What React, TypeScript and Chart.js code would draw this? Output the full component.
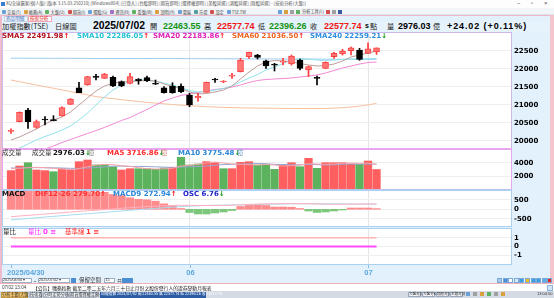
import React, { useEffect, useRef } from 'react';
import { Chart, registerables } from 'chart.js';

Chart.register(...registerables);

// ---------------- data ----------------
const dates = [
  '2025/04/30', '2025/05/02', '2025/05/05', '2025/05/06', '2025/05/07', '2025/05/08', '2025/05/09', '2025/05/12', '2025/05/13', '2025/05/14',
  '2025/05/15', '2025/05/16', '2025/05/19', '2025/05/20', '2025/05/21', '2025/05/22', '2025/05/23', '2025/05/26', '2025/05/27', '2025/05/28',
  '2025/05/29', '2025/06/02', '2025/06/03', '2025/06/04', '2025/06/05', '2025/06/06', '2025/06/09', '2025/06/10', '2025/06/11', '2025/06/12',
  '2025/06/13', '2025/06/16', '2025/06/17', '2025/06/18', '2025/06/19', '2025/06/20', '2025/06/23', '2025/06/24', '2025/06/25', '2025/06/26',
  '2025/06/27', '2025/06/30', '2025/07/01', '2025/07/02',
];
const opens = [
  20260, 20528, 20853, 20372, 20585, 20565, 20686, 21011, 21472, 21547,
  21770, 21733, 21761, 21639, 21594, 21714, 21750, 21594, 21472, 21519,
  21519, 21269, 21195, 21344, 21700, 21630, 21795, 21917, 22333, 22381,
  22222, 22110, 22185, 22131, 22242, 21964, 21745, 22011, 22333, 22408,
  22500, 22519, 22428, 22463.55,
];
const highs = [
  20330, 20800, 20900, 20575, 20667, 20694, 20944, 21170, 21622, 21790,
  21845, 21870, 21797, 21660, 21872, 21725, 21797, 21686, 21500, 21611,
  21583, 21317, 21317, 21630, 21733, 21670, 21872, 22288, 22464, 22400,
  22242, 22150, 22289, 22380, 22269, 22075, 21797, 22190, 22456, 22539,
  22600, 22567, 22722, 22577.74,
];
const lows = [
  20200, 20520, 20344, 20344, 20436, 20550, 20680, 21000, 21333, 21540,
  21686, 21725, 21500, 21500, 21580, 21567, 21639, 21560, 21317, 21317,
  21333, 20944, 21100, 21340, 21622, 21610, 21733, 21910, 22288, 22269,
  22011, 21936, 22103, 22100, 21964, 21778, 21547, 22000, 22289, 22380,
  22380, 22233, 22419, 22396.26,
];
const closes = [
  20278, 20789, 20528, 20528, 20575, 20556, 20917, 21158, 21333, 21778,
  21761, 21853, 21520, 21520, 21778, 21667, 21667, 21567, 21333, 21333,
  21361, 20992, 21230, 21622, 21686, 21645, 21810, 22242, 22456, 22317,
  22075, 22100, 22200, 22353, 22011, 22056, 21733, 22178, 22428, 22492,
  22583, 22261, 22553.72, 22577.74,
];
const sma5 = [
  20019, 20103, 20214, 20325, 20464, 20575, 20658, 20797, 20992, 21186,
  21381, 21519, 21603, 21631, 21644, 21658, 21672, 21658, 21575, 21506,
  21450, 21353, 21297, 21311, 21353, 21408, 21519, 21714, 21908, 22075,
  22186, 22228, 22214, 22200, 22144, 22103, 22075, 22089, 22130, 22214,
  22325, 22381, 22436, 22491.98,
];
const sma10 = [
  19686, 19797, 19908, 20019, 20117, 20200, 20297, 20408, 20575, 20769,
  20992, 21214, 21408, 21547, 21644, 21686, 21686, 21658, 21603, 21547,
  21478, 21394, 21353, 21367, 21408, 21450, 21519, 21631, 21742, 21839,
  21964, 22047, 22144, 22242, 22283, 22269, 22242, 22228, 22242, 22256,
  22269, 22269, 22275, 22286.05,
];
const sma20 = [
  19436, 19520, 19603, 19686, 19770, 19853, 19950, 20033, 20117, 20200,
  20283, 20367, 20464, 20561, 20644, 20756, 20867, 20992, 21103, 21186,
  21256, 21297, 21339, 21380, 21422, 21450, 21492, 21547, 21617, 21672,
  21700, 21714, 21728, 21742, 21769, 21797, 21825, 21880, 21950, 22019,
  22075, 22130, 22172, 22183.86,
];
const sma60 = [
  21686, 21640, 21594, 21548, 21502, 21456, 21410, 21364, 21318, 21272,
  21226, 21195, 21168, 21140, 21115, 21090, 21066, 21045, 21025, 21005,
  20988, 20972, 20958, 20946, 20936, 20927, 20920, 20914, 20909, 20905,
  20902, 20900, 20898, 20896, 20894, 20893, 20893, 20897, 20905, 20918,
  20936, 20960, 20995, 21036.5,
];
const sma240 = [
  22292, 22291, 22290, 22290, 22289, 22288, 22288, 22287, 22287, 22286,
  22286, 22286, 22285, 22285, 22285, 22284, 22284, 22283, 22283, 22282,
  22281, 22280, 22279, 22278, 22277, 22276, 22275, 22274, 22273, 22272,
  22271, 22270, 22269, 22268, 22267, 22266, 22265, 22264, 22263, 22262,
  22261, 22260, 22259.5, 22259.21,
];
const volumes = [
  2812, 3504, 4000, 2903, 2812, 2647, 3098, 2903, 4151, 4407,
  3655, 3655, 3399, 2903, 3098, 3098, 3098, 3008, 3203, 3309,
  4813, 3655, 3805, 4151, 4000, 3098, 3098, 4060, 4151, 3655,
  3760, 3008, 3760, 4000, 3399, 4662, 3158, 4000, 4000, 4000,
  3805, 3760, 4256, 2976.03,
];
// 1 = 紅 (漲), -1 = 綠 (跌)
const volDir = [
  1, 1, -1, 1, 1, -1, 1, 1, 1, 1,
  -1, -1, -1, 1, 1, -1, -1, -1, -1, 1,
  -1, -1, -1, 1, 1, -1, 1, 1, 1, -1,
  -1, -1, 1, 1, -1, 1, -1, 1, 1, 1,
  1, -1, 1, 1,
];
const volMa5 = [
  3100, 3150, 3250, 3300, 3250, 3150, 3050, 2950, 3100, 3400,
  3650, 3750, 3700, 3550, 3450, 3250, 3100, 3050, 3080, 3150,
  3500, 3600, 3750, 3950, 4100, 3950, 3800, 3750, 3700, 3650,
  3750, 3650, 3500, 3550, 3650, 3850, 3800, 3750, 3800, 3900,
  3950, 3900, 3950, 3716.86,
];
const volMa10 = [
  3200, 3220, 3250, 3260, 3250, 3230, 3200, 3150, 3150, 3200,
  3270, 3380, 3480, 3480, 3430, 3450, 3420, 3380, 3330, 3300,
  3350, 3380, 3420, 3500, 3600, 3730, 3760, 3780, 3820, 3880,
  3850, 3750, 3720, 3700, 3680, 3750, 3720, 3650, 3680, 3760,
  3800, 3780, 3800, 3775.48,
];
const dif = [
  -390, -355, -320, -285, -250, -215, -180, -145, -110, -80,
  -50, -15, 20, 55, 85, 115, 140, 165, 185, 200,
  210, 205, 200, 198, 200, 205, 215, 235, 258, 275,
  285, 292, 298, 302, 300, 292, 280, 272, 268, 268,
  272, 275, 278, 279.7,
];
const macd9 = [
  -560, -520, -482, -445, -408, -372, -336, -300, -266, -232,
  -198, -163, -125, -88, -52, -18, 15, 48, 80, 110,
  140, 165, 185, 200, 210, 218, 225, 232, 240, 250,
  260, 270, 278, 285, 290, 292, 290, 286, 282, 278,
  275, 274, 273.5, 272.94,
];
const osc = [
  195, 200, 198, 192, 188, 185, 182, 180, 178, 176,
  172, 170, 148, 138, 115, 100, 95, 81, 55, 38,
  8, -32, -47, -47, -37, -27, -12, 28, 43, 43,
  38, 23, 23, 21, 8, -17, -32, -27, -17, -7,
  13, 13, 13, 6.76,
];
const volRatio = [
  0, 0, 0, 0, 0, 0, 0, 0, 0, 0,
  0, 0, 0, 0, 0, 0, 0, 0, 0, 0,
  0, 0, 0, 0, 0, 0, 0, 0, 0, 0,
  0, 0, 0, 0, 0, 0, 0, 0, 0, 0,
  0, 0, 0, 0,
];
const baseLine = [
  1, 1, 1, 1, 1, 1, 1, 1, 1, 1,
  1, 1, 1, 1, 1, 1, 1, 1, 1, 1,
  1, 1, 1, 1, 1, 1, 1, 1, 1, 1,
  1, 1, 1, 1, 1, 1, 1, 1, 1, 1,
  1, 1, 1, 1,
];
const priceTicks = [20000, 20250, 20500, 20750, 21000, 21250, 21500, 21750, 22000, 22250, 22500, 22750];
const volTicks = [2000, 4000];
const macdTicks = [-500, 0, 500];
const ratioTicks = [-1, 0, 1];
const monthTickIdx = [0, 21, 42];
const monthTickLabels = ['2025/04/30', '06', '07'];

// ---------------- chart helpers ----------------
const X_MIN = -0.94;
const X_MAX = 58.82;
const AXIS_W = 37;

const CJK = '"Noto Sans CJK TC", "Noto Sans CJK SC", sans-serif';
const ARIAL = '"Liberation Sans", Arial, sans-serif';
const VERD = '"DejaVu Sans", Verdana, sans-serif';

const bgPlugin = {
  id: 'panelBg',
  beforeDraw(chart: any) {
    const { ctx, chartArea: a } = chart;
    ctx.save();
    ctx.fillStyle = '#ffffff';
    ctx.fillRect(a.left, a.top, a.right - a.left, a.bottom - a.top);
    ctx.restore();
  },
};

const monthLabelPlugin = {
  id: 'monthLabels',
  afterDraw(chart: any) {
    const { ctx, chartArea: a, scales } = chart;
    const xs = scales.x;
    ctx.save();
    ctx.strokeStyle = '#86bde8';
    ctx.fillStyle = '#5ba6dd';
    ctx.lineWidth = 1;
    ctx.font = 'bold 7.5px "Liberation Sans", Arial, sans-serif';
    ctx.textBaseline = 'middle';
    monthTickIdx.forEach((v, k) => {
      const px = Math.round(xs.getPixelForValue(v)) + 0.5;
      ctx.beginPath();
      ctx.moveTo(px, a.bottom + 0.5);
      ctx.lineTo(px, a.bottom + 3.5);
      ctx.stroke();
      ctx.textAlign = k === 0 ? 'left' : 'center';
      ctx.fillText(monthTickLabels[k], k === 0 ? px - 4.5 : px, a.bottom + 8.3);
    });
    ctx.restore();
  },
};

function xAxis(h = 0) {
  return {
    type: 'linear',
    min: X_MIN,
    max: X_MAX,
    offset: false,
    grid: { display: true, offset: false, color: '#e6e6e6', drawTicks: false, lineWidth: 1 },
    border: { display: false },
    ticks: { display: false },
    afterBuildTicks: (s: any) => {
      s.ticks = monthTickIdx.slice(1).map((v) => ({ value: v }));
    },
    afterFit: (s: any) => {
      s.height = h;
      s.paddingLeft = 0;
      s.paddingRight = 0;
    },
  };
}

function yAxis(min: number, max: number, ticks: number[]) {
  return {
    type: 'linear',
    position: 'right',
    min,
    max,
    grid: { color: '#efefef', drawTicks: false, lineWidth: 1 },
    border: { display: false },
    ticks: {
      color: '#000',
      padding: 3,
      font: { family: 'DejaVu Sans', size: 7, weight: 'bold' },
      callback: (v: any) => String(v),
    },
    afterBuildTicks: (s: any) => {
      s.ticks = ticks.map((v) => ({ value: v }));
    },
    afterFit: (s: any) => {
      s.width = AXIS_W;
      s.paddingTop = 0;
      s.paddingBottom = 0;
    },
  };
}

const pts = (arr: number[]) => arr.map((y, i) => ({ x: i, y }));
const line = (label: string, arr: number[], color: string, order: number, width = 1, yAxisID = 'y') => ({
  type: 'line',
  label,
  data: pts(arr),
  borderColor: color,
  borderWidth: width,
  pointRadius: 0,
  tension: 0,
  fill: false,
  order,
  yAxisID,
});

const baseOptions = {
  responsive: false,
  animation: false,
  events: [],
  devicePixelRatio: 1,
  layout: { padding: 0, autoPadding: false },
  plugins: { legend: { display: false }, tooltip: { enabled: false } },
};

// ---------------- small UI helpers ----------------
function T({ x, y, s, c = '#000', b = false, f = ARIAL, ls = 0, children }: any) {
  return (
    <span
      style={{
        position: 'absolute',
        left: x,
        top: y - s * 0.6,
        fontSize: s,
        lineHeight: `${s * 1.2}px`,
        height: s * 1.2,
        color: c,
        fontWeight: b ? 700 : 400,
        fontFamily: f,
        whiteSpace: 'nowrap',
        letterSpacing: ls,
      }}
    >
      {children}
    </span>
  );
}

function Box({ x, y, w, h, bg = 'transparent', bd, st }: any) {
  return (
    <div
      style={{
        position: 'absolute',
        left: x,
        top: y,
        width: w,
        height: h,
        background: bg,
        border: bd,
        boxSizing: 'border-box',
        ...st,
      }}
    />
  );
}

const UP = <span style={{ color: '#ff1010' }}>↑</span>;
const DN = <span style={{ color: '#139a13' }}>↓</span>;

export default function App() {
  const priceRef = useRef<HTMLCanvasElement>(null);
  const volRef = useRef<HTMLCanvasElement>(null);
  const macdRef = useRef<HTMLCanvasElement>(null);
  const ratioRef = useRef<HTMLCanvasElement>(null);

  useEffect(() => {
    const idx = closes.map((_, i) => i);
    const isUp = (i: number) => closes[i] >= opens[i];
    const charts: Chart[] = [];

    charts.push(
      new Chart(priceRef.current as HTMLCanvasElement, {
        type: 'bar',
        data: {
          datasets: [
            {
              type: 'bar',
              label: 'K',
              data: idx.map((i) => ({ x: i, y: [opens[i], closes[i]] })),
              backgroundColor: idx.map((i) => (isUp(i) ? '#ff7676' : '#000000')),
              borderColor: idx.map((i) => (isUp(i) ? '#ff4040' : '#000000')),
              borderWidth: 1,
              borderSkipped: false,
              barThickness: 6,
              minBarLength: 1,
              grouped: false,
              order: 0,
            },
            {
              type: 'bar',
              label: 'wick',
              data: idx.map((i) => ({ x: i, y: [lows[i], highs[i]] })),
              backgroundColor: idx.map((i) => (isUp(i) ? '#ff3a3a' : '#000000')),
              borderWidth: 0,
              barThickness: 1,
              grouped: false,
              order: 1,
            },
            line('SMA5', sma5, '#bd9f98', 2),
            line('SMA10', sma10, '#8fe3ec', 3),
            line('SMA20', sma20, '#f28ad6', 4),
            line('SMA60', sma60, '#f8c09e', 5),
            line('SMA240', sma240, '#9fcdf0', 6),
          ],
        } as any,
        options: {
          ...baseOptions,
          scales: { x: xAxis(0), y: yAxis(19797, 22992, priceTicks) },
        } as any,
        plugins: [bgPlugin],
      })
    );

    charts.push(
      new Chart(volRef.current as HTMLCanvasElement, {
        type: 'bar',
        data: {
          datasets: [
            {
              type: 'bar',
              label: '成交量',
              data: pts(volumes),
              backgroundColor: volDir.map((d) => (d > 0 ? '#ff5f5f' : '#5db35d')),
              borderWidth: 0,
              barThickness: 7.6,
              grouped: false,
              order: 2,
            },
            line('MA5', volMa5, '#f5a3aa', 0),
            line('MA10', volMa10, '#98a7d2', 1),
          ],
        } as any,
        options: {
          ...baseOptions,
          scales: { x: xAxis(0), y: yAxis(-105, 6061, volTicks) },
        } as any,
        plugins: [bgPlugin],
      })
    );

    charts.push(
      new Chart(macdRef.current as HTMLCanvasElement, {
        type: 'bar',
        data: {
          datasets: [
            {
              type: 'bar',
              label: 'OSC',
              data: pts(osc),
              backgroundColor: osc.map((v) => (v >= 0 ? '#ff8c8c' : '#7cc77c')),
              borderWidth: 0,
              barThickness: 7.6,
              grouped: false,
              order: 2,
              yAxisID: 'y2',
            },
            line('DIF12-26', dif, '#ffb0c0', 0),
            line('MACD9', macd9, '#a4dcf0', 1),
          ],
        } as any,
        options: {
          ...baseOptions,
          scales: {
            x: xAxis(0),
            y: yAxis(-879, 963, macdTicks),
            y2: { type: 'linear', display: false, min: -167, max: 183 },
          },
        } as any,
        plugins: [bgPlugin],
      })
    );

    charts.push(
      new Chart(ratioRef.current as HTMLCanvasElement, {
        type: 'line',
        data: {
          datasets: [
            line('基準線', baseLine, '#ffb2b2', 1, 1.5),
            line('量比', volRatio, '#ff4cff', 0, 2),
          ],
        } as any,
        options: {
          ...baseOptions,
          scales: { x: xAxis(12.5), y: yAxis(-2.07, 2.01, ratioTicks) },
        } as any,
        plugins: [bgPlugin, monthLabelPlugin],
      })
    );

    return () => charts.forEach((c) => c.destroy());
  }, []);

  const cv = (x: number, y: number): any => ({ position: 'absolute', left: x, top: y });

  const toolbarIcons = ['#6aa0d8', '#d9a040', '#5fb060', '#d05050', '#6aa0d8', '#a070c0', '#5fb060', '#d9a040', '#6aa0d8', '#50a0a0', '#d05050', '#6aa0d8'];
  const toolbarText = ['交易(T)', '帳務(A)', '大盤(U)', '期貨(I)', '選股(G)', '資訊(N)', '看盤(W)', '說明(H)', '雲端', '市場', '設定', 'TSE.TW'];
  const rightIcons = ['#a8c8e8', '#4a90d9', '#ffffff', '#d8ecfa', '#3aa0e0', '#f2c018', '#3a9ee0', '#3a9ee0', '#5ab0e8', '#e02828'];

  return (
    <div
      style={{
        position: 'fixed',
        left: 0,
        top: 0,
        width: 554,
        height: 298,
        overflow: 'hidden',
        background: '#e2f1fc',
        fontFamily: ARIAL,
      }}
    >
      {/* title bar */}
      <Box x={0} y={0} w={554} h={8} bg="#fdfdfd" />
      <Box x={1} y={1.5} w={4} h={4} bg="#3b7fd0" />
      <T x={6} y={3.8} s={4.4} c="#555" f={CJK}>
        XQ全球贏家(個人版) [版本 3.15.03.250210] [WindowsX64] [已登入] [台股即時] [期貨即時] [選擇權即時] [美股延遲] [港股延遲] [陸股延遲] - [技術分析(大盤)]
      </T>
      <T x={517} y={3.5} s={6} c="#555">−</T>
      <T x={531} y={3.5} s={6} c="#555">▫</T>
      <T x={544} y={3.5} s={6} c="#555">×</T>

      {/* toolbar */}
      <Box x={0} y={8} w={554} h={7} bg="#f2f5f8" bd="none" st={{ borderBottom: '1px solid #dde3ea' }} />
      <div style={{ position: 'absolute', left: 2, top: 8.5, height: 6, display: 'flex', alignItems: 'center', gap: 3 }}>
        {toolbarText.map((t, k) => (
          <div key={k} style={{ display: 'flex', alignItems: 'center', gap: 1 }}>
            <div style={{ width: 4, height: 4, background: toolbarIcons[k], borderRadius: 1 }} />
            <span style={{ fontFamily: CJK, fontSize: 4.2, lineHeight: '6px', color: '#444', whiteSpace: 'nowrap' }}>{t}</span>
          </div>
        ))}
      </div>
      <div style={{ position: 'absolute', left: 278, top: 9, height: 5, display: 'flex', alignItems: 'center', gap: 2 }}>
        {['#6aa0d8', '#d9a040', '#a0a0a0', '#5fb060'].map((c, k) => (
          <div key={k} style={{ width: 4, height: 4, background: c }} />
        ))}
        <span style={{ fontFamily: CJK, fontSize: 4.2, lineHeight: '5px', color: '#444' }}>分析工具(L)</span>
        {['#d05050', '#a0a0a0', '#3b5ba0'].map((c, k) => (
          <div key={'b' + k} style={{ width: 4, height: 4, background: c }} />
        ))}
      </div>

      {/* frame lines */}
      <Box x={0} y={15} w={554} h={1} bg="#f0b8c6" />
      <Box x={0} y={15} w={2} h={268} bg="#eebccc" />
      <Box x={550} y={15} w={4} h={268} bg="#f3c6cd" />

      {/* tabs */}
      <Box x={4} y={16} w={24} h={5.5} bg="#f4f8fc" bd="1px solid #c4d4e4" />
      <T x={6} y={18.8} s={4.6} c="#3a6fc0" f={CJK}>商品明細</T>
      <Box x={28} y={16} w={24} h={5.5} bg="#ffffff" bd="1px solid #f0a8b8" />
      <T x={30} y={18.8} s={4.6} c="#e02020" f={CJK}>技術分析</T>

      {/* header row */}
      <Box x={2} y={21.5} w={548} h={10} bg="#e7f3fc" />
      <T x={2} y={26} s={7.2} c="#222" f={CJK}>加權指數(TSE)</T>
      <T x={55} y={26} s={7.2} c="#222" f={CJK}>日線圖</T>
      <T x={93} y={26} s={10.4} b>2025/07/02</T>
      <T x={150} y={26} s={7.2} c="#222" f={CJK}>開</T>
      <T x={163} y={26} s={9} b c="#149414">22463.55</T>
      <T x={204} y={26} s={7.2} c="#222" f={CJK}>高</T>
      <T x={217} y={26} s={9} b c="#f01414">22577.74</T>
      <T x={258} y={26} s={7.2} c="#222" f={CJK}>低</T>
      <T x={269} y={26} s={9} b c="#149414">22396.26</T>
      <T x={310} y={26} s={7.2} c="#222" f={CJK}>收</T>
      <T x={324} y={26} s={9} b c="#f01414">22577.74</T>
      <T x={365} y={26} s={7} b>s</T>
      <T x={370} y={26} s={7.2} c="#222" f={CJK}>點</T>
      <T x={387} y={26} s={7.2} c="#222" f={CJK}>量</T>
      <T x={398} y={26} s={9} b>2976.03</T>
      <T x={433} y={26} s={7.2} c="#222" f={CJK}>億</T>
      <T x={447} y={26} s={9} b ls={0.9}>+24.02 (+0.11%)</T>

      {/* charts */}
      <canvas ref={priceRef} width={545} height={115} style={cv(3, 33)} />
      <canvas ref={volRef} width={545} height={41} style={cv(3, 149)} />
      <canvas ref={macdRef} width={545} height={35} style={cv(3, 191)} />
      <canvas ref={ratioRef} width={545} height={48} style={cv(3, 229)} />

      {/* panel borders */}
      <Box x={2} y={32} w={510} h={117} bd="1px solid #ccb8ea" />
      <Box x={2} y={148} w={510} h={42} bd="1px solid #e9a6ee" st={{ borderTopWidth: 2, borderBottomColor: '#c0c4ee' }} />
      <Box x={2} y={190} w={510} h={37} bd="1px solid #a9d0ee" />
      <Box x={2} y={228} w={510} h={37} bd="1px solid #a9d0ee" />

      {/* price legend */}
      <T x={2} y={35.8} s={7} b f={VERD} c="#b0101c">SMA5 22491.98{UP}</T>
      <T x={77} y={35.8} s={7} b f={VERD} c="#22c4d6">SMA10 22286.05{UP}</T>
      <T x={153} y={35.8} s={7} b f={VERD} c="#e020b4">SMA20 22183.86{UP}</T>
      <T x={232} y={35.8} s={7} b f={VERD} c="#f0641e">SMA60 21036.50{UP}</T>
      <T x={310} y={35.8} s={7} b f={VERD} c="#2d8ee0">SMA240 22259.21{DN}</T>

      {/* volume legend */}
      <T x={2} y={153.3} s={6.5} c="#333" f={CJK}>成交量</T>
      <T x={32} y={153.3} s={6.5} c="#333" f={CJK}>成交量</T>
      <T x={53} y={153.3} s={7} b f={VERD} c="#111">2976.03{DN}</T>
      <T x={88} y={153.3} s={6.5} c="#8a8a8a" f={CJK}>億</T>
      <T x={107} y={153.3} s={7} b f={VERD} c="#ff2a2a">MA5 3716.86{DN}</T>
      <T x={161} y={153.3} s={6.5} c="#e08a8a" f={CJK}>億</T>
      <T x={178} y={153.3} s={7} b f={VERD} c="#2a86d8">MA10 3775.48{DN}</T>
      <T x={237} y={153.3} s={6.5} c="#7aa0d0" f={CJK}>億</T>

      {/* MACD legend */}
      <T x={2} y={194.3} s={7} b f={VERD} c="#111">MACD</T>
      <T x={35} y={194.3} s={7} b f={VERD} c="#ff3030">DIF12-26 279.70{UP}</T>
      <T x={113} y={194.3} s={7} b f={VERD} c="#2a86d8">MACD9 272.94{UP}</T>
      <T x={183} y={194.3} s={7} b f={VERD} c="#1c1cc8">OSC 6.76{DN}</T>

      {/* 量比 legend */}
      <T x={3} y={232.3} s={6.5} c="#222" f={CJK}>量比</T>
      <T x={28} y={232.3} s={6.5} c="#ff30ff" f={CJK}>量比</T>
      <T x={43} y={232.3} s={7} b f={VERD} c="#ff30ff">0 ≡</T>
      <T x={65} y={232.3} s={6.5} c="#ff3030" f={CJK}>基準線</T>
      <T x={86} y={232.3} s={7} b f={VERD} c="#ff3030">1 ≡</T>

      {/* bottom controls row */}
      <Box x={2} y={278} w={30} h={5} bg="#ffffff" bd="1px solid #9ab0c8" />
      <T x={3} y={280.5} s={3.8} c="#333">2025/04/30 ▾</T>
      <T x={33.5} y={280.5} s={5} c="#333">~</T>
      <Box x={38} y={278} w={32} h={5} bg="#ffffff" bd="1px solid #9ab0c8" />
      <T x={39} y={280.5} s={3.8} c="#333">2025/07/02 ▾</T>
      <Box x={71} y={278} w={5} h={5} bg="#4a8fd4" />
      <T x={79} y={280.5} s={5.5} c="#333" f={CJK}>保留空間</T>
      <Box x={104} y={278} w={11} h={5} bg="#ffffff" bd="1px solid #9ab0c8" />
      <T x={105.5} y={280.5} s={3.8} c="#333">15</T>
      <T x={117} y={280.5} s={5} c="#333" f={CJK}>日</T>
      <Box x={122} y={278} w={11} h={5} bg="#4a8fd4" />
      <div style={{ position: 'absolute', left: 497, top: 278, display: 'flex', gap: 0.6 }}>
        {rightIcons.map((c, k) => (
          <div key={k} style={{ width: 5, height: 5, background: c, border: '0.5px solid #7aa8d8', boxSizing: 'border-box' }} />
        ))}
      </div>
      <Box x={0} y={283} w={554} h={1} bg="#f0b0b8" />

      {/* news row */}
      <Box x={0} y={284} w={554} h={7} bg="#ffffff" />
      <T x={2} y={287.6} s={4.6} c="#444">07/02 13:04</T>
      <T x={33} y={287.6} s={4.8} c="#222" f={CJK}>【公告】職務指數 截至二零二五年六月三十日止月份之股份發行人的證券變動月報表</T>
      <Box x={547} y={284.5} w={6} h={6} bg="#cfe4f6" bd="1px solid #8ab4dc" />

      {/* task bar */}
      <Box x={0} y={291} w={554} h={7} bg="#d5dbe4" />
      <Box x={1} y={291.5} w={27} h={6} bg="#f4c66c" bd="0.5px solid #c89a40" />
      <T x={2} y={294.5} s={4.2} c="#333" f={CJK}>分析主題(大盤)</T>
      <Box x={29} y={291.5} w={13} h={6} bg="#eef2f8" bd="0.5px solid #a8b4c4" />
      <T x={30} y={294.5} s={4.2} c="#333" f={CJK}>技術看盤</T>
      <Box x={43} y={291.5} w={25} h={6} bg="#eef2f8" bd="0.5px solid #a8b4c4" />
      <T x={44} y={294.5} s={4.2} c="#333" f={CJK}>分時走勢分析</T>
      <Box x={69} y={291.5} w={27} h={6} bg="#eef2f8" bd="0.5px solid #a8b4c4" />
      <T x={70} y={294.5} s={4.2} c="#333" f={CJK}>期貨選擇權走勢</T>
      <Box x={100} y={291.5} w={106} h={6} bg="#2c5da4" />
      <T x={101} y={294.5} s={3.8} c="#ffffff" f={CJK}>加權指數 2025/07/02 開 22463.55 高 22577.74 低 22396.26 收 22577.74</T>
      {['大盤走勢', '大盤分K', '類股走勢', '主題走勢'].map((t, k) => (
        <React.Fragment key={t}>
          <Box x={408 + k * 14} y={292} w={13} h={5} bg="#f4f6fa" bd="0.5px solid #9aa8bc" />
          <T x={409 + k * 14} y={294.5} s={3.6} c="#333" f={CJK}>{t}</T>
        </React.Fragment>
      ))}
      <div style={{ position: 'absolute', left: 466, top: 292, display: 'flex', gap: 3, alignItems: 'center' }}>
        {['#6aa0d8', '#a0a0a0', '#d9a040', '#5fb060', '#a0a0a0', '#d9a040'].map((c, k) => (
          <div key={k} style={{ width: 4, height: 4, background: c }} />
        ))}
      </div>
      <T x={537} y={294.5} s={4} c="#333">13:04:50</T>
    </div>
  );
}
